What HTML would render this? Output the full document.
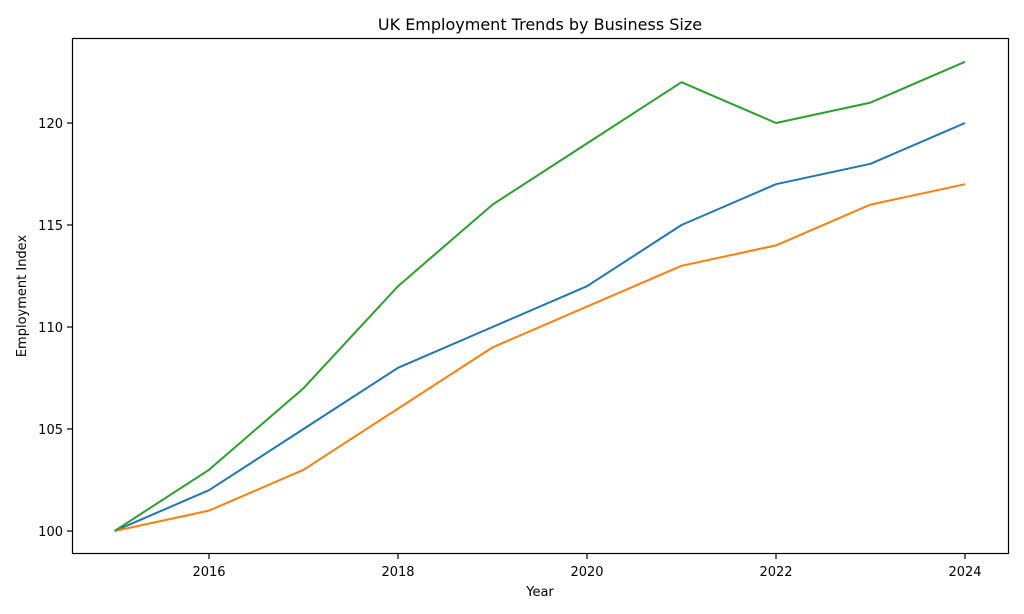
<!DOCTYPE html>
<html><head><style>body{margin:0;background:#fff}svg{display:block}</style></head><body>
<svg width="1024" height="614" xmlns="http://www.w3.org/2000/svg" font-family="'DejaVu Sans', 'Liberation Sans', sans-serif">
<rect width="1024" height="614" fill="#fff"/>
<text x="540" y="30" font-size="16" text-anchor="middle" fill="#000">UK Employment Trends by Business Size</text>
<g fill="none" stroke-width="2" stroke-linejoin="round">
<polyline stroke="#1f77b4" points="114.5,531 209,490.2 303.5,429 398,367.8 492.5,327 587,286.2 681.5,225 776,184.2 870.5,163.8 965,123"/>
<polyline stroke="#ff7f0e" points="114.5,531 209,510.6 303.5,469.8 398,408.6 492.5,347.4 587,306.6 681.5,265.8 776,245.4 870.5,204.6 965,184.2"/>
<polyline stroke="#2ca02c" points="114.5,531 209,469.8 303.5,388.2 398,286.2 492.5,204.6 587,143.4 681.5,82.2 776,123 870.5,102.6 965,61.8"/>
</g>
<rect x="72.5" y="38.5" width="936" height="515" fill="none" stroke="#000" stroke-width="1.2"/>
<g stroke="#000" stroke-width="1.2">
<line x1="72.5" x2="67" y1="531" y2="531"/><line x1="72.5" x2="67" y1="429" y2="429"/><line x1="72.5" x2="67" y1="327" y2="327"/><line x1="72.5" x2="67" y1="225" y2="225"/><line x1="72.5" x2="67" y1="123" y2="123"/>
<line y1="553.5" y2="559" x1="209" x2="209"/><line y1="553.5" y2="559" x1="398" x2="398"/><line y1="553.5" y2="559" x1="587" x2="587"/><line y1="553.5" y2="559" x1="776" x2="776"/><line y1="553.5" y2="559" x1="965" x2="965"/>
</g>
<g font-size="13" fill="#000" text-anchor="end">
<text x="63" y="536">100</text><text x="63" y="434">105</text><text x="63" y="332">110</text><text x="63" y="230">115</text><text x="63" y="128">120</text>
</g>
<g font-size="13" fill="#000" text-anchor="middle">
<text x="209" y="576">2016</text><text x="398" y="576">2018</text><text x="587" y="576">2020</text><text x="776" y="576">2022</text><text x="965" y="576">2024</text>
<text x="540" y="596">Year</text>
<text transform="translate(26,296) rotate(-90)">Employment Index</text>
</g>
</svg>
</body></html>
